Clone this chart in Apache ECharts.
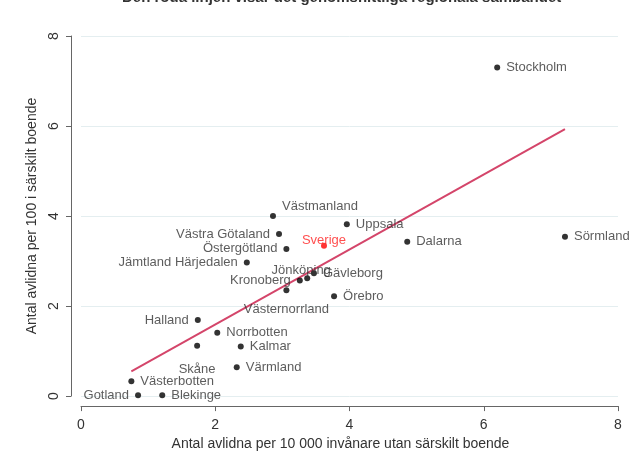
<!DOCTYPE html>
<html>
<head>
<meta charset="utf-8">
<script src="https://cdn.jsdelivr.net/npm/echarts@6/dist/echarts.min.js"></script>
<style>html,body{margin:0;padding:0;background:#fff}#c{width:636px;height:456px}</style>
</head>
<body>
<div id="c"></div>
<script>
// ---- data ----
var regions = ['Stockholm','Sörmland','Dalarna','Uppsala','Västmanland','Västra Götaland','Östergötland','Jämtland Härjedalen','Gävleborg','Jönköping','Kronoberg','Västernorrland','Örebro','Halland','Norrbotten','Skåne','Kalmar','Värmland','Västerbotten','Gotland','Blekinge'];
var xVals = [6.20, 7.21, 4.86, 3.96, 2.86, 2.95, 3.06, 2.47, 3.47, 3.37, 3.26, 3.06, 3.77, 1.74, 2.03, 1.73, 2.38, 2.32, 0.75, 0.85, 1.21];
var yVals = [7.30, 3.54, 3.43, 3.82, 4.00, 3.60, 3.27, 2.97, 2.73, 2.62, 2.57, 2.35, 2.22, 1.69, 1.41, 1.12, 1.10, 0.64, 0.33, 0.02, 0.02];
var nationName = 'Sverige';
var nationX = [3.62];
var nationY = [3.34];
var fitX = [0.75, 7.21];
var fitY = [0.55, 5.93];
var xTicks = [0, 2, 4, 6, 8];
var yTicks = [0, 2, 4, 6, 8];
var titleText = 'Den röda linjen visar det genomsnittliga regionala sambandet';
var xTitle = 'Antal avlidna per 10 000 invånare utan särskilt boende';
var yTitle = 'Antal avlidna per 100 i särskilt boende';

// label placement (style, not data)
var leftLabels = {'Västra Götaland':1,'Östergötland':1,'Jämtland Härjedalen':1,'Halland':1,'Gotland':1,'Kronoberg':1};
var special = {
  'Västmanland': {position:'right', offset:[0,-10], distance:6},
  'Jönköping': {position:'top', offset:[-6,4], distance:2},
  'Västernorrland': {position:'bottom', offset:[0,6], distance:4},
  'Skåne': {position:'bottom', offset:[0,10], distance:4}
};

var pts = regions.map(function(n,i){
  var lab = {position: leftLabels[n] ? 'left' : 'right', distance: 6};
  if (special[n]) lab = special[n];
  return {name:n, value:[xVals[i], yVals[i]], label: lab};
});
var nat = nationX.map(function(x,i){ return {name:nationName, value:[x, nationY[i]]}; });
var fit = fitX.map(function(x,i){ return [x, fitY[i]]; });

var font = 'Liberation Sans, Arial, sans-serif';
var chart = echarts.init(document.getElementById('c'));
chart.setOption({
  backgroundColor:'#fff',
  animation:false,
  title:{text:titleText, left:122, top:-10, padding:0,
    textStyle:{fontFamily:font, fontSize:15, fontWeight:'bold', color:'#333'}},
  grid:{left:81, right:18, top:36, bottom:56},
  xAxis:{type:'value', min:xTicks[0], max:xTicks[xTicks.length-1], interval:2, offset:10,
    name:xTitle, nameLocation:'middle', nameGap:30,
    nameTextStyle:{fontFamily:font, fontSize:14, color:'#333', padding:[0,18,0,0]},
    axisLine:{show:true, onZero:false, lineStyle:{color:'#666', width:1}},
    axisTick:{show:true, length:5, lineStyle:{color:'#666'}},
    axisLabel:{fontFamily:font, fontSize:14, color:'#333', margin:12},
    splitLine:{show:false}},
  yAxis:{type:'value', min:yTicks[0], max:yTicks[yTicks.length-1], interval:2, offset:10,
    name:yTitle, nameLocation:'middle', nameGap:27,
    nameTextStyle:{fontFamily:font, fontSize:14, color:'#333'},
    axisLine:{show:true, onZero:false, lineStyle:{color:'#666', width:1}},
    axisTick:{show:true, length:5, lineStyle:{color:'#666'}},
    axisLabel:{fontFamily:font, fontSize:14, color:'#333', rotate:90, margin:10},
    splitLine:{show:true, lineStyle:{color:'#e4eef0', width:1}}},
  series:[
    {type:'line', data:fit, symbol:'none', lineStyle:{color:'#d4456a', width:2}, z:2, silent:true},
    {type:'scatter', data:pts, symbolSize:6, itemStyle:{color:'#000'}, z:3,
      label:{show:true, formatter:'{b}', fontFamily:font, fontSize:13, color:'#333'}},
    {type:'scatter', data:nat, symbolSize:6, itemStyle:{color:'#f00'}, z:4,
      label:{show:true, formatter:'{b}', position:'top', distance:3, offset:[0,7], fontFamily:font, fontSize:13, color:'#f22'}}
  ]
});
</script>
</body>
</html>
